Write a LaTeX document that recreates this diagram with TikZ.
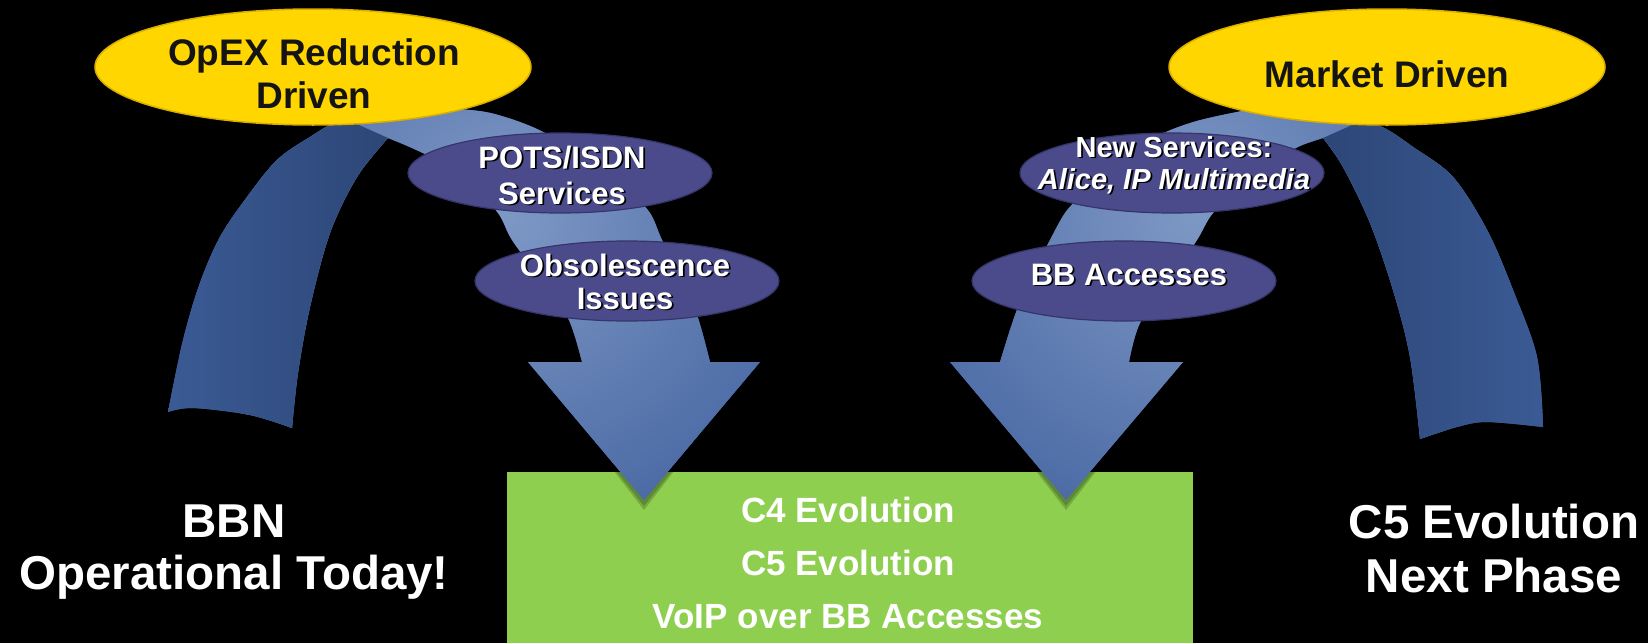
\documentclass[tikz,border=0pt]{standalone}
\usepackage{fontspec}
\setmainfont{Liberation Sans}
\usetikzlibrary{shapes.geometric}

\definecolor{gold}{HTML}{FFD600}
\definecolor{goldedge}{HTML}{D9AE00}
\definecolor{plum}{HTML}{4B4B8C}
\definecolor{plumedge}{HTML}{35356A}
\definecolor{leaf}{HTML}{8FCF4F}
\definecolor{ribbon}{HTML}{4A69A4}
\definecolor{ribbonhi}{HTML}{7E98C5}
\definecolor{legdark}{HTML}{2C4676}
\definecolor{leglight}{HTML}{3D5D99}

% soft highlight in the middle of each ribbon
\pgfdeclareradialshading{glow}{\pgfpointorigin}{color(0bp)=(ribbonhi); color(25bp)=(ribbon); color(50bp)=(ribbon)}

% white lettering with a small black drop shadow
\newcommand\shadowed[1]{\makebox[0pt][l]{\hspace{1.8pt}\raisebox{-1.8pt}{\color{black}#1}}#1}

% outline of the left ribbon arrow
\newcommand\leftribbonpath{(168,412)
  -- plot[smooth, tension=0.55] coordinates {(168,412) (183,340) (200,283) (220,237) (247,197) (277,160) (310,137) (345,118) (400,108) (470,110) (505,117) (545,133) (595,165) (630,193) (650,213) (662,240) (682,280) (698,318) (710,362)}
  -- (760,362) -- (644,500) -- (528,362) -- (582,362)
  -- plot[smooth, tension=0.55] coordinates {(582,362) (568,318) (540,278) (512,240) (498,213) (470,183) (440,162) (412,148) (388,138)}
  -- plot[smooth, tension=0.55] coordinates {(388,138) (357,177) (330,233) (310,307) (298,373) (292,428)}
  -- plot[smooth, tension=0.55] coordinates {(292,428) (250,415) (193,408) (168,412)}
  -- cycle}

% outline of the right ribbon arrow
\newcommand\rightribbonpath{(1543,427)
  -- plot[smooth, tension=0.55] coordinates {(1543,427) (1537,357) (1513,290) (1487,230) (1453,177) (1413,147) (1380,126) (1330,110) (1270,107) (1237,112) (1190,123) (1150,140) (1110,170) (1080,197) (1065,213) (1050,240) (1030,280) (1015,315) (1000,362)}
  -- (950,362) -- (1066,500) -- (1183,362) -- (1129,362)
  -- plot[smooth, tension=0.55] coordinates {(1129,362) (1140,323) (1170,280) (1197,240) (1213,213) (1245,182) (1275,160) (1300,146) (1323,138)}
  -- plot[smooth, tension=0.55] coordinates {(1323,138) (1343,167) (1370,223) (1393,290) (1410,357) (1420,439)}
  -- plot[smooth, tension=0.55] coordinates {(1420,439) (1457,427) (1487,422) (1543,427)}
  -- cycle}

\tikzset{
  yellowell/.style={ellipse, fill=gold, draw=goldedge, line width=1.5pt,
    minimum width=436pt, minimum height=116pt, inner sep=0pt},
  plumell/.style={ellipse, fill=plum, draw=plumedge, line width=1.2pt,
    minimum width=304pt, minimum height=80pt, inner sep=0pt},
  corebox/.style={rectangle, fill=leaf, inner sep=0pt, anchor=north west,
    minimum width=686pt, minimum height=171pt},
  drivertext/.style={anchor=base, inner sep=0pt, text=black!92,
    font=\fontsize{37}{44}\selectfont\bfseries},
  topictext/.style={anchor=base, inner sep=0pt, text=white,
    font=\fontsize{31}{36}\selectfont\bfseries},
  servicetext/.style={anchor=base, inner sep=0pt, text=white,
    font=\fontsize{29}{32}\selectfont\bfseries},
  boxtext/.style={anchor=base, inner sep=0pt, text=white,
    font=\fontsize{35}{53}\selectfont\bfseries},
  phasetext/.style={anchor=base, inner sep=0pt, text=white,
    font=\fontsize{47.5}{53}\selectfont\bfseries},
  tipshadow/.style={fill=black, opacity=0.18},
}

\begin{document}
\begin{tikzpicture}[x=1pt, y=-1pt]
\useasboundingbox (0,0) rectangle (1648,643);
\fill[black] (0,0) rectangle (1648,643);

% target box
\node[corebox] (core) at (507,472) {};

% soft shadows of the arrow tips on the box
\fill[tipshadow] (532,366) -- (644,506) -- (756,366) -- cycle;
\fill[tipshadow] (536,370) -- (644,510) -- (752,370) -- cycle;
\fill[tipshadow] (954,366) -- (1066,506) -- (1179,366) -- cycle;
\fill[tipshadow] (958,370) -- (1066,510) -- (1175,370) -- cycle;

% left ribbon arrow
\begin{scope}
  \clip \leftribbonpath;
  \fill[ribbon] (100,90) rectangle (800,520);
  \shade[shading=glow] (505,215) circle (330pt);
  \shade[left color=leglight, right color=legdark]
    (140,450) -- (292,450) -- (292,428)
    -- plot[smooth, tension=0.55] coordinates {(292,428) (298,373) (310,307) (330,233) (357,177) (388,138)}
    -- (330,112) -- (140,100) -- cycle;
\end{scope}

% right ribbon arrow
\begin{scope}
  \clip \rightribbonpath;
  \fill[ribbon] (900,90) rectangle (1600,520);
  \shade[shading=glow] (1195,215) circle (330pt);
  \shade[left color=legdark, right color=leglight]
    (1570,450) -- (1420,450) -- (1420,439)
    -- plot[smooth, tension=0.55] coordinates {(1420,439) (1410,357) (1393,290) (1370,223) (1343,167) (1323,138)}
    -- (1390,108) -- (1570,100) -- cycle;
\end{scope}

% drivers
\node[yellowell] (opex) at (313,67) {};
\node[yellowell] (market) at (1387,67) {};

% topics on the ribbons
\node[plumell] (pots) at (560,173) {};
\node[plumell] (obso) at (627,281) {};
\node[plumell] (newsvc) at (1172,173) {};
\node[plumell] (bbacc) at (1124,281) {};

% labels
\node[drivertext] (opexA) at (314,65) {OpEX Reduction};
\node[drivertext] (opexB) at (314,108.5) {Driven};
\node[drivertext] (marketA) at (1387,87) {Market Driven};

\node[topictext] (potsA) at (562,168) {\shadowed{POTS/ISDN}};
\node[topictext] (potsB) at (562,204) {\shadowed{Services}};
\node[topictext] (obsoA) at (625,276) {\shadowed{Obsolescence}};
\node[topictext] (obsoB) at (625,309) {\shadowed{Issues}};
\node[servicetext] (newA) at (1174,157) {\shadowed{New Services:}};
\node[servicetext] (newB) at (1174,189) {\shadowed{\itshape Alice, IP Multimedia}};
\node[topictext] (bbA) at (1129,285) {\shadowed{BB Accesses}};

\node[boxtext] (coreA) at (848,522) {C4 Evolution};
\node[boxtext] (coreB) at (848,575) {C5 Evolution};
\node[boxtext] (coreC) at (848,628) {VoIP over BB Accesses};

\node[phasetext] (todayA) at (234,537) {BBN};
\node[phasetext] (todayB) at (234,589) {Operational Today!};
\node[phasetext] (nextA) at (1494,538) {C5 Evolution};
\node[phasetext] (nextB) at (1494,592) {Next Phase};
\end{tikzpicture}
\end{document}
